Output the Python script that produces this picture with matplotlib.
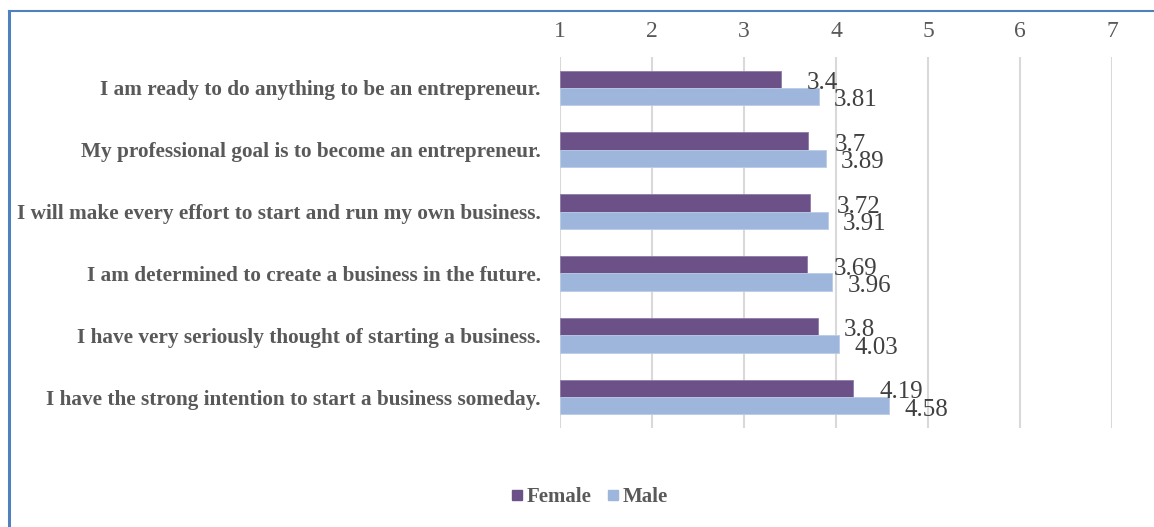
import numpy as np
import matplotlib.pyplot as plt
from matplotlib.lines import Line2D

statements = [
    "I am ready to do anything to be an entrepreneur.",
    "My professional goal is to become an entrepreneur.",
    "I will make every effort to start and run my own business.",
    "I am determined to create a business in the future.",
    "I have very seriously thought of starting a business.",
    "I have the strong intention to start a business someday.",
]
female = [3.4, 3.7, 3.72, 3.69, 3.8, 4.19]
male = [3.81, 3.89, 3.91, 3.96, 4.03, 4.58]
ticks = [1, 2, 3, 4, 5, 6, 7]

c_female = '#6B5187'
c_male = '#9EB6DC'
txt = '#595959'
serif = ['Liberation Serif', 'DejaVu Serif']

fig = plt.figure(figsize=(11.54, 5.27), dpi=100)
ax = fig.add_axes([560 / 1154, 1 - 428 / 527, 552 / 1154, 371 / 527])

y = np.arange(len(statements))
h = 0.28
ax.barh(y - h / 2, np.array(female) - 1, left=1, height=h, color=c_female,
        edgecolor='#8E7BA6', linewidth=0.6, zorder=3)
ax.barh(y + h / 2, np.array(male) - 1, left=1, height=h, color=c_male,
        edgecolor='#B9CBE6', linewidth=0.6, zorder=3)

for i in range(len(statements)):
    ax.annotate(f"{female[i]:g}", (female[i], y[i] - h / 2), xytext=(19, -1),
                textcoords='offset points', va='center_baseline', ha='left',
                fontsize=18, family=serif, color='#404040', zorder=4)
    ax.annotate(f"{male[i]:g}", (male[i], y[i] + h / 2), xytext=(11, -1),
                textcoords='offset points', va='center_baseline', ha='left',
                fontsize=18, family=serif, color='#404040', zorder=4)

ax.set_xlim(1, 7)
ax.set_ylim(len(statements) - 0.5, -0.5)
ax.set_xticks(ticks)
ax.xaxis.tick_top()
ax.tick_params(axis='x', length=0, pad=11, labelsize=17, labelcolor=txt)
for lab in ax.get_xticklabels():
    lab.set_family(serif)
ax.set_yticks(y)
ax.set_yticklabels(statements, fontsize=15.3, fontweight='bold', family=serif, color=txt)
ax.tick_params(axis='y', length=0, pad=14)
ax.grid(axis='x', color='#D9D9D9', linewidth=1.5, zorder=0)
for s in ax.spines.values():
    s.set_visible(False)

handles = [Line2D([], [], marker='s', linestyle='none', markersize=7.5, color=c_female),
           Line2D([], [], marker='s', linestyle='none', markersize=7.5, color=c_male)]
fig.legend(handles, ['Female', 'Male'], loc='center', bbox_to_anchor=(582 / 1154, 1 - 497 / 527),
           ncol=2, frameon=False, handletextpad=-0.5, columnspacing=0.0,
           prop={'family': serif, 'weight': 'bold', 'size': 15}, labelcolor=txt)

# chart border (top and left edges visible)
fig.add_artist(Line2D([9 / 1154, 9 / 1154], [0, 1 - 11 / 527], color='#4F81BD', linewidth=2.2))
fig.add_artist(Line2D([9 / 1154, 1], [1 - 11 / 527, 1 - 11 / 527], color='#4F81BD', linewidth=1.5))

fig.savefig('out.png', dpi=100)
